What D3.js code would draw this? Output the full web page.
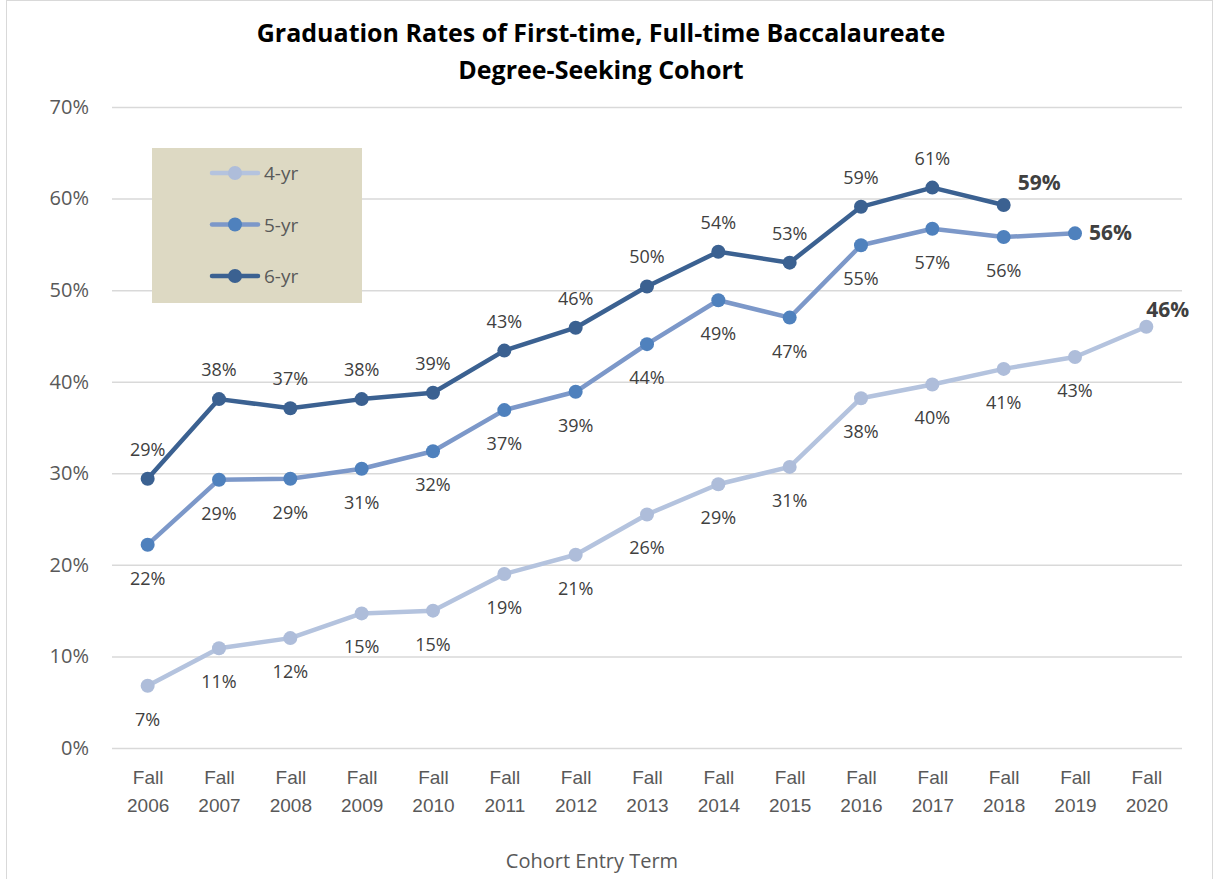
<!DOCTYPE html>
<html>
<head>
<meta charset="utf-8">
<script src="https://cdn.jsdelivr.net/npm/d3@7"></script>
<style>
  body { margin: 0; background: #fff; }
  svg { display: block; font-family: "Open Sans", sans-serif; }
</style>
</head>
<body>
<svg id="chart"></svg>
<script>
// chart data
const terms = ["2006", "2007", "2008", "2009", "2010", "2011", "2012", "2013",
	"2014", "2015", "2016", "2017", "2018", "2019", "2020"];
const yr4 = [6.8, 10.9, 12.0, 14.7, 15.0, 19.0, 21.1, 25.5, 28.8, 30.7, 38.2, 39.7, 41.4, 42.7, 46.0];
const yr5 = [22.2, 29.3, 29.4, 30.5, 32.4, 36.9, 38.9, 44.1, 48.9, 47.0, 54.9, 56.7, 55.8, 56.2];
const yr6 = [29.4, 38.1, 37.1, 38.1, 38.8, 43.4, 45.9, 50.4, 54.2, 53.0, 59.1, 61.2, 59.3];
const yTicks = [0, 10, 20, 30, 40, 50, 60, 70];

const W = 1214, H = 879;
const margin = { top: 107, right: 32, bottom: 131, left: 112 };
const innerW = W - margin.left - margin.right;
const innerH = H - margin.top - margin.bottom;

const series = [
	{ name: "4-yr", values: yr4, line: "#b4c3de", dot: "#aebdda", pos: "below" },
	{ name: "5-yr", values: yr5, line: "#7c98c9", dot: "#4f81bd", pos: "below" },
	{ name: "6-yr", values: yr6, line: "#3b6191", dot: "#3b6191", pos: "above" }
];

const svg = d3.select("#chart").attr("width", W).attr("height", H);

// outer chart border
svg.append("rect")
	.attr("x", 6.5).attr("y", 0.5)
	.attr("width", 1206).attr("height", H + 10)
	.attr("fill", "none").attr("stroke", "#d9d9d9");

const scaleX = d3.scalePoint()
	.domain(terms)
	.range([0, innerW])
	.padding(0.5);

const scaleY = d3.scaleLinear()
	.domain([0, 70])
	.range([innerH, 0]);

const g = svg.append("g").attr("transform", `translate(${margin.left},${margin.top})`);

// gridlines + y axis
const yAxis = g.append("g")
	.call(d3.axisLeft(scaleY).tickValues(yTicks).tickSize(-innerW).tickFormat(d => d + "%"));
yAxis.select(".domain").remove();
yAxis.selectAll(".tick line").attr("stroke", "#d9d9d9").attr("stroke-width", 1.5);
yAxis.selectAll(".tick text")
	.attr("x", -23)
	.attr("fill", "#595959")
	.style("font-size", "20px")
	.style("font-family", "'Open Sans', sans-serif");

// x axis (two line labels)
const xAxis = g.append("g")
	.attr("transform", `translate(0,${innerH})`)
	.call(d3.axisBottom(scaleX).tickSize(0).tickFormat(""));
xAxis.select(".domain").remove();
xAxis.selectAll(".tick").each(function(d) {
	const t = d3.select(this).append("text")
		.attr("fill", "#595959")
		.attr("text-anchor", "middle")
		.style("font-size", "19px");
	t.append("tspan").attr("x", 0).attr("y", 36).text("Fall");
	t.append("tspan").attr("x", 0).attr("y", 64).text(d);
});

// lines, markers, labels
const line = d3.line()
	.x((d, i) => scaleX(terms[i]))
	.y(d => scaleY(d));

series.forEach(s => {
	g.append("path")
		.datum(s.values)
		.attr("fill", "none")
		.attr("stroke", s.line)
		.attr("stroke-width", 4.5)
		.attr("stroke-linejoin", "round")
		.attr("d", line);

	g.append("g").selectAll("circle")
		.data(s.values)
		.join("circle")
		.attr("cx", (d, i) => scaleX(terms[i]))
		.attr("cy", d => scaleY(d))
		.attr("r", 7)
		.attr("fill", s.dot);

	const last = s.values.length - 1;
	g.append("g").selectAll("text")
		.data(s.values)
		.join("text")
		.attr("fill", "#404040")
		.style("font-size", (d, i) => i === last ? "21px" : "18px")
		.style("font-weight", (d, i) => i === last ? "bold" : "normal")
		.attr("text-anchor", (d, i) => i === last ? "start" : "middle")
		.attr("x", (d, i) => {
			const x = scaleX(terms[i]);
			if (i !== last) return x;
			return s.name === "4-yr" ? x + 0 : x + 14;
		})
		.attr("y", (d, i) => {
			const y = scaleY(d);
			if (i === last) {
				if (s.name === "4-yr") return y - 10;
				if (s.name === "6-yr") return y - 15;
				return y + 7;
			}
			return s.pos === "above" ? y - 23 : y + 40;
		})
		.text(d => Math.round(d) + "%");
});

// legend
const legend = svg.append("g").attr("transform", "translate(152,148)");
legend.append("rect")
	.attr("width", 210).attr("height", 155)
	.attr("fill", "#ddd9c3");
series.forEach((s, i) => {
	const ly = 25 + i * 51.5;
	legend.append("line")
		.attr("x1", 60).attr("x2", 106)
		.attr("y1", ly).attr("y2", ly)
		.attr("stroke", s.line).attr("stroke-width", 4.5)
		.attr("stroke-linecap", "round");
	legend.append("circle")
		.attr("cx", 83).attr("cy", ly).attr("r", 7)
		.attr("fill", s.dot);
	legend.append("text")
		.attr("x", 112).attr("y", ly + 7)
		.attr("fill", "#595959")
		.style("font-size", "19px")
		.text(s.name);
});

// title
const title = svg.append("text")
	.attr("text-anchor", "middle")
	.attr("fill", "#000")
	.style("font-size", "25px")
	.style("font-weight", "bold");
title.append("tspan").attr("x", 601).attr("y", 42).text("Graduation Rates of First-time, Full-time Baccalaureate");
title.append("tspan").attr("x", 601).attr("y", 79).text("Degree-Seeking Cohort");

// axis title
svg.append("text")
	.attr("x", 592).attr("y", 868)
	.attr("text-anchor", "middle")
	.attr("fill", "#595959")
	.style("font-size", "20px")
	.text("Cohort Entry Term");
</script>
</body>
</html>
